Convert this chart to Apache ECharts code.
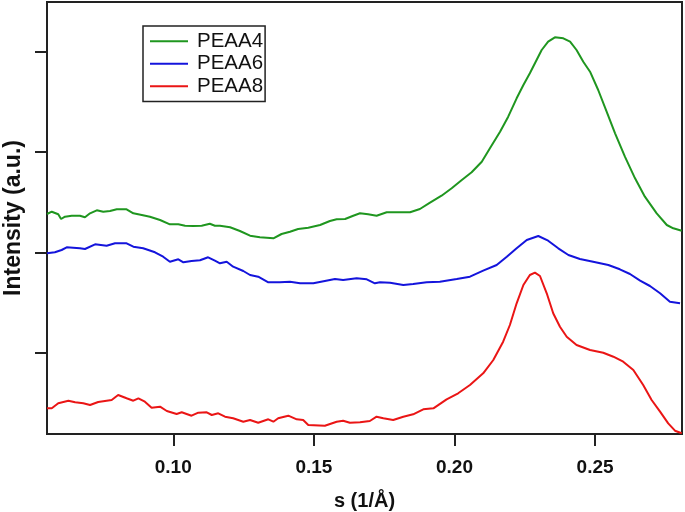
<!DOCTYPE html>
<html>
<head>
<meta charset="utf-8">
<script src="https://cdn.jsdelivr.net/npm/echarts@6/dist/echarts.min.js"></script>
<style>html,body{margin:0;padding:0;background:#fff}#c{width:685px;height:512px}</style>
</head>
<body>
<div id="c"></div>
<script>
// s (1/Å) and intensity (a.u.)
const seriesNames = ['PEAA4', 'PEAA6', 'PEAA8'];
const xTicks = [0.10, 0.15, 0.20, 0.25];
const yTicks = [0.815, 1.817, 2.82, 3.82];

const peaa4 = [
 [0.0551,2.20],[0.0568,2.223],[0.0591,2.197],[0.0601,2.15],[0.0615,2.173],[0.0639,2.183],[0.0668,2.183],
 [0.0686,2.167],[0.0704,2.207],[0.0728,2.237],[0.0751,2.223],[0.0775,2.23],[0.0799,2.247],[0.0834,2.247],
 [0.0858,2.207],[0.0888,2.19],[0.0917,2.173],[0.0953,2.14],[0.0988,2.097],[0.1018,2.097],[0.1042,2.083],
 [0.1071,2.08],[0.1101,2.083],[0.1130,2.103],[0.1148,2.083],[0.1166,2.083],[0.1202,2.067],[0.1237,2.03],
 [0.1273,1.983],[0.1308,1.967],[0.1356,1.957],[0.1385,2.00],[0.1415,2.023],[0.1444,2.05],[0.1480,2.063],
 [0.1522,2.09],[0.1557,2.13],[0.1581,2.147],[0.1611,2.15],[0.1640,2.183],[0.1664,2.207],[0.1693,2.197],
 [0.1723,2.183],[0.1759,2.217],[0.1794,2.217],[0.1842,2.217],[0.1877,2.25],[0.1913,2.313],[0.1954,2.383],
 [0.1990,2.457],[0.2026,2.54],[0.2061,2.617],[0.2097,2.723],[0.2126,2.857],[0.2162,3.023],[0.2191,3.173],
 [0.2221,3.357],[0.2245,3.49],[0.2268,3.607],[0.2310,3.84],[0.2333,3.923],[0.2357,3.967],[0.2387,3.957],
 [0.2411,3.923],[0.2434,3.84],[0.2458,3.723],[0.2482,3.623],[0.2511,3.44],[0.2541,3.223],[0.2571,3.007],
 [0.2606,2.773],[0.2642,2.557],[0.2677,2.373],[0.2719,2.207],[0.2755,2.09],[0.2778,2.057],[0.2808,2.033]
];
const peaa6 = [
 [0.0551,1.807],[0.0579,1.817],[0.0603,1.84],[0.0621,1.867],[0.0644,1.863],[0.0668,1.857],[0.0686,1.85],
 [0.0722,1.897],[0.0763,1.883],[0.0793,1.907],[0.0834,1.907],[0.0858,1.873],[0.0893,1.857],[0.0935,1.817],
 [0.0964,1.773],[0.0988,1.723],[0.1018,1.747],[0.1036,1.717],[0.1065,1.73],[0.1095,1.737],[0.1124,1.767],
 [0.1148,1.733],[0.1166,1.707],[0.1190,1.723],[0.1213,1.673],[0.1249,1.63],[0.1273,1.59],[0.1302,1.573],
 [0.1338,1.517],[0.1379,1.517],[0.1415,1.523],[0.1451,1.507],[0.1498,1.507],[0.1539,1.53],[0.1575,1.55],
 [0.1604,1.54],[0.1652,1.557],[0.1688,1.547],[0.1717,1.507],[0.1735,1.517],[0.1771,1.513],[0.1818,1.49],
 [0.1853,1.50],[0.1901,1.517],[0.1948,1.523],[0.2008,1.55],[0.2055,1.573],[0.2102,1.633],[0.2150,1.69],
 [0.2186,1.773],[0.2221,1.857],[0.2257,1.94],[0.2298,1.98],[0.2333,1.933],[0.2369,1.857],[0.2405,1.79],
 [0.2446,1.75],[0.2493,1.723],[0.2547,1.69],[0.2588,1.647],[0.2624,1.60],[0.2660,1.533],[0.2695,1.48],
 [0.2731,1.407],[0.2766,1.323],[0.2802,1.307]
];
const peaa8 = [
 [0.0551,0.257],[0.0568,0.257],[0.0591,0.307],[0.0627,0.333],[0.0651,0.317],[0.0680,0.307],[0.0704,0.29],
 [0.0733,0.32],[0.0781,0.34],[0.0804,0.39],[0.0834,0.357],[0.0858,0.333],[0.0876,0.357],[0.0899,0.323],
 [0.0923,0.263],[0.0953,0.273],[0.0977,0.23],[0.1012,0.20],[0.1030,0.217],[0.1065,0.183],[0.1089,0.213],
 [0.1119,0.217],[0.1137,0.19],[0.1160,0.207],[0.1184,0.173],[0.1213,0.157],[0.1249,0.123],[0.1273,0.14],
 [0.1302,0.113],[0.1338,0.147],[0.1356,0.123],[0.1373,0.157],[0.1409,0.183],[0.1439,0.147],[0.1462,0.14],
 [0.1480,0.09],[0.1539,0.083],[0.1581,0.123],[0.1604,0.133],[0.1628,0.113],[0.1664,0.117],[0.1699,0.13],
 [0.1723,0.173],[0.1747,0.157],[0.1782,0.14],[0.1818,0.173],[0.1853,0.197],[0.1889,0.247],[0.1925,0.257],
 [0.1972,0.347],[0.2013,0.407],[0.2055,0.49],[0.2102,0.607],[0.2138,0.74],[0.2173,0.923],[0.2197,1.09],
 [0.2221,1.307],[0.2245,1.49],[0.2268,1.59],[0.2286,1.613],[0.2304,1.58],[0.2328,1.407],[0.2351,1.207],
 [0.2375,1.073],[0.2399,0.973],[0.2434,0.89],[0.2482,0.84],[0.2529,0.813],[0.2565,0.773],[0.2600,0.723],
 [0.2636,0.64],[0.2671,0.49],[0.2701,0.34],[0.2731,0.223],[0.2760,0.107],[0.2784,0.033],[0.2808,0.007]
];
const colors = ['#1f961f', '#1414dc', '#ea1515'];
const dataSets = [peaa4, peaa6, peaa8];

const chart = echarts.init(document.getElementById('c'), null, {renderer: 'canvas'});
const FONT = 'Liberation Sans, Arial, sans-serif';
chart.setOption({
  animation: false,
  backgroundColor: '#fff',
  grid: {left: 47, right: 3, top: 2, bottom: 78, containLabel: false, outerBoundsMode: 'none',
    show: true, borderColor: '#222', borderWidth: 2, backgroundColor: 'transparent'},
  legend: {
    data: seriesNames,
    orient: 'vertical',
    left: 143, top: 26,
    padding: [4, 2, 4, 7],
    borderColor: '#222', borderWidth: 1.5,
    icon: 'rect', itemWidth: 38, itemHeight: 2, itemGap: 0,
    textStyle: {fontFamily: FONT, fontSize: 20.5, color: '#111', lineHeight: 22.5, padding: [0, 0, 0, 4]}
  },
  xAxis: {
    type: 'value', min: 0.0551, max: 0.2809,
    name: 's (1/Å)', nameLocation: 'middle', nameGap: 57,
    nameTextStyle: {fontFamily: FONT, fontSize: 20, fontWeight: 'bold', color: '#111'},
    axisLine: {show: true, lineStyle: {color: '#222', width: 2}},
    axisTick: {show: true, inside: false, length: 12, lineStyle: {color: '#222', width: 2}, customValues: xTicks},
    axisLabel: {fontFamily: FONT, fontSize: 19, fontWeight: 'bold', color: '#111', margin: 24,
      customValues: xTicks, formatter: v => v.toFixed(2)},
    splitLine: {show: false}
  },
  yAxis: {
    type: 'value', min: 0, max: 4.32,
    name: 'Intensity (a.u.)', nameLocation: 'middle', nameGap: 22,
    nameTextStyle: {fontFamily: FONT, fontSize: 23, fontWeight: 'bold', color: '#111'},
    axisLine: {show: true, lineStyle: {color: '#222', width: 2}},
    axisTick: {show: true, inside: false, length: 12, lineStyle: {color: '#222', width: 2}, customValues: yTicks},
    axisLabel: {show: false, customValues: yTicks},
    splitLine: {show: false}
  },
  series: dataSets.map((d, i) => ({
    name: seriesNames[i], type: 'line', data: d, showSymbol: false, symbol: 'none',
    lineStyle: {color: colors[i], width: 2}, itemStyle: {color: colors[i]}, clip: true
  }))
});
</script>
</body>
</html>
